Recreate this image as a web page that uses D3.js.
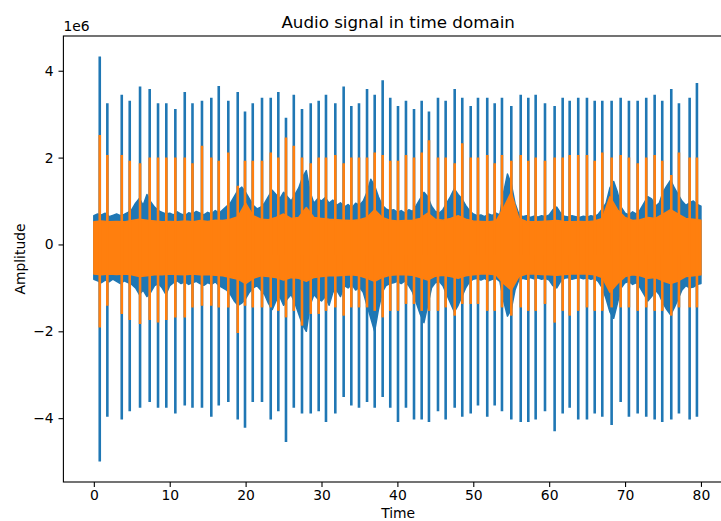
<!DOCTYPE html>
<html>
<head>
<meta charset="utf-8">
<script src="https://cdn.jsdelivr.net/npm/d3@7"></script>
<style>
  body { margin: 0; background: #fff; }
  svg text { font-family: "DejaVu Sans", sans-serif; fill: #000; }
</style>
</head>
<body>
<div id="chart"></div>
<script>
// values in units of 1e6

// click / beat positions (s)
const beatTimes = [
  0.78, 1.78, 3.68, 4.73, 6.09, 7.36, 8.46, 9.55, 10.74, 11.98,
  13.00, 14.25, 15.48, 16.46, 17.72, 18.96, 19.92, 20.94, 22.16, 23.31,
  24.31, 25.32, 26.35, 27.43, 28.58, 29.63, 30.59, 31.82, 32.92, 33.93,
  34.94, 36.00, 37.01, 38.06, 39.06, 40.08, 41.13, 42.19, 43.20, 44.16,
  45.35, 46.36, 47.55, 48.55, 49.66, 50.62, 51.84, 52.82, 53.78, 55.01,
  56.25, 57.25, 58.22, 59.45, 60.72, 61.78, 62.70, 63.83, 64.98, 66.00,
  67.00, 68.23, 69.42, 70.51, 71.66, 72.79, 73.90, 74.90, 76.09, 77.10,
  78.51, 79.47
]

// channel 0 (blue) peak at each beat
const leftBeatHi = [
  4.33, 3.25, 3.45, 3.31, 3.64, 3.58, 3.25, 3.25, 3.12, 3.51,
  3.25, 3.31, 3.38, 3.65, 3.31, 3.51, 3.06, 3.25, 3.38, 3.38,
  3.51, 2.92, 3.45, 3.12, 3.25, 3.31, 3.45, 3.25, 3.64, 3.19,
  3.25, 3.58, 3.45, 3.78, 3.38, 3.19, 3.31, 3.12, 3.31, 3.06,
  3.38, 3.31, 3.58, 3.38, 3.19, 3.38, 3.38, 3.25, 3.38, 3.19,
  3.45, 3.38, 3.45, 3.25, 3.19, 3.38, 3.31, 3.38, 3.38, 3.31,
  3.31, 3.31, 3.38, 3.31, 3.31, 3.38, 3.45, 3.31, 3.58, 3.25,
  3.38, 3.72
]
const leftBeatLo = [
  -5.00, -3.97, -4.03, -3.84, -3.76, -3.63, -3.76, -3.76, -3.89, -3.71,
  -3.76, -3.76, -3.97, -3.71, -3.63, -4.03, -4.22, -3.63, -3.63, -4.03,
  -3.84, -4.55, -3.76, -3.89, -3.89, -3.84, -4.09, -3.89, -3.51, -3.71,
  -3.76, -3.63, -3.76, -3.51, -3.76, -4.09, -3.76, -4.03, -4.03, -4.09,
  -3.84, -4.03, -3.76, -3.97, -3.89, -3.71, -3.97, -3.71, -3.84, -4.03,
  -4.09, -4.09, -4.03, -3.84, -4.30, -3.89, -3.76, -4.03, -4.03, -3.89,
  -3.97, -4.16, -3.63, -3.97, -3.89, -3.97, -4.03, -4.09, -4.03, -3.89,
  -4.03, -3.97
]

// channel 1 (orange) peak at each beat
const rightBeatHi = [
  2.52, 2.06, 2.06, 1.93, 1.87, 2.00, 2.00, 2.00, 2.00, 2.00,
  1.87, 2.27, 2.00, 1.93, 2.12, 1.35, 1.93, 1.93, 1.93, 2.12,
  2.00, 2.46, 2.27, 2.00, 1.87, 2.00, 2.00, 2.06, 1.87, 2.00,
  2.00, 2.00, 2.12, 2.06, 1.93, 1.93, 2.06, 2.00, 2.12, 2.40,
  2.00, 2.00, 1.87, 2.33, 2.00, 2.00, 2.06, 1.87, 2.06, 1.93,
  2.06, 1.93, 2.00, 1.93, 2.00, 2.00, 2.06, 2.06, 2.06, 1.93,
  2.12, 2.00, 2.06, 2.00, 1.87, 2.00, 2.06, 1.93, 1.60, 2.12,
  2.00, 2.00
]
const rightBeatLo = [
  -1.91, -1.41, -1.60, -1.74, -1.83, -1.74, -1.80, -1.74, -1.68, -1.68,
  -1.45, -1.41, -1.41, -1.45, -1.45, -2.04, -1.41, -1.45, -1.45, -1.45,
  -1.53, -1.68, -1.53, -1.87, -1.60, -1.60, -1.53, -1.45, -1.64, -1.45,
  -1.45, -1.45, -1.53, -1.68, -1.53, -1.53, -1.37, -1.37, -1.53, -1.53,
  -1.53, -1.45, -1.64, -1.37, -1.37, -1.37, -1.53, -1.53, -1.45, -1.64,
  -1.45, -1.53, -1.53, -1.37, -1.80, -1.53, -1.64, -1.53, -1.45, -1.53,
  -1.53, -1.45, -1.45, -1.45, -1.53, -1.45, -1.53, -1.53, -1.64, -1.45,
  -1.45, -1.45
]

// envelope of the background signal between beats
const leftEnvStep = 0.5   // s between samples
const leftEnvHi = [
  0.66, 0.70, 0.68, 0.72, 0.64, 0.67, 0.70, 0.66, 0.69, 0.74,
  0.80, 0.95, 1.06, 0.90, 1.15, 0.98, 0.86, 0.78, 0.74, 0.70,
  0.72, 0.68, 0.75, 0.70, 0.66, 0.73, 0.70, 0.76, 0.72, 0.68,
  0.74, 0.70, 0.78, 0.72, 0.80, 0.88, 0.95, 1.10, 1.25, 1.32,
  1.20, 1.05, 0.90, 0.82, 0.86, 0.95, 1.10, 1.25, 1.15, 1.05,
  1.20, 1.10, 1.00, 1.15, 1.30, 1.55, 1.70, 1.20, 0.95, 1.05,
  1.00, 1.08, 0.95, 1.02, 0.90, 0.96, 0.86, 0.92, 0.84, 0.95,
  0.90, 1.00, 1.20, 1.50, 1.35, 1.10, 0.90, 0.82, 0.78, 0.80,
  0.74, 0.78, 0.72, 0.80, 0.76, 0.90, 1.05, 1.20, 1.10, 0.88,
  0.76, 0.72, 0.80, 0.95, 1.10, 1.28, 1.15, 1.05, 0.90, 0.78,
  0.70, 0.66, 0.68, 0.64, 0.70, 0.67, 0.72, 0.68, 1.20, 1.62,
  1.40, 0.95, 0.70, 0.64, 0.66, 0.62, 0.65, 0.63, 0.66, 0.64,
  0.68, 0.80, 0.86, 0.72, 0.65, 0.63, 0.66, 0.64, 0.62, 0.65,
  0.63, 0.66, 0.64, 0.70, 0.82, 0.95, 1.30, 1.45, 1.20, 0.85,
  0.72, 0.68, 0.75, 0.70, 0.80, 0.95, 1.10, 1.05, 0.88, 0.95,
  1.20, 1.35, 1.48, 1.30, 1.15, 1.00, 0.90, 0.96, 1.00, 0.92,
  0.88
]
const leftEnvLo = [
  -0.80, -0.84, -0.88, -0.82, -0.86, -0.80, -0.85, -0.90, -0.84, -0.88,
  -0.92, -1.00, -1.15, -1.05, -1.20, -1.10, -0.95, -0.90, -1.00, -1.15,
  -0.95, -0.88, -0.84, -0.90, -0.86, -0.92, -0.88, -0.85, -0.90, -0.94,
  -0.88, -0.92, -0.86, -0.95, -1.00, -1.05, -1.15, -1.30, -1.40, -1.35,
  -1.25, -1.10, -1.00, -0.95, -1.05, -1.15, -1.35, -1.50, -1.30, -1.20,
  -1.40, -1.25, -1.15, -1.35, -1.60, -1.85, -2.00, -1.40, -1.15, -1.25,
  -1.30, -1.20, -1.40, -1.10, -1.05, -1.20, -0.95, -1.00, -0.92, -1.05,
  -0.98, -1.10, -1.40, -1.70, -2.00, -1.50, -1.10, -0.95, -0.90, -0.88,
  -0.85, -0.90, -0.84, -0.95, -1.10, -1.35, -1.60, -1.80, -1.40, -1.00,
  -0.88, -0.85, -0.95, -1.15, -1.35, -1.55, -1.40, -1.20, -1.00, -0.86,
  -0.80, -0.78, -0.82, -0.78, -0.84, -0.80, -0.78, -0.85, -1.30, -1.65,
  -1.50, -1.05, -0.82, -0.78, -0.80, -0.76, -0.79, -0.77, -0.80, -0.78,
  -0.82, -0.95, -1.00, -0.85, -0.78, -0.76, -0.80, -0.78, -0.76, -0.79,
  -0.77, -0.80, -0.78, -0.86, -1.00, -1.25, -1.55, -1.70, -1.35, -1.00,
  -0.88, -0.85, -0.92, -0.88, -1.00, -1.15, -1.30, -1.20, -1.05, -1.15,
  -1.35, -1.50, -1.62, -1.45, -1.25, -1.05, -0.95, -1.00, -0.98, -0.92,
  -0.90
]

const rightEnvStep = 1.0
const rightEnvHi = [
  0.52, 0.54, 0.52, 0.53, 0.52, 0.55, 0.58, 0.56, 0.54, 0.52,
  0.53, 0.52, 0.54, 0.52, 0.55, 0.53, 0.56, 0.55, 0.58, 0.64,
  0.95, 0.66, 0.58, 0.57, 0.62, 0.70, 0.60, 0.62, 0.85, 0.62,
  0.60, 0.58, 0.57, 0.56, 0.55, 0.57, 0.62, 0.80, 0.62, 0.56,
  0.54, 0.55, 0.56, 0.60, 0.72, 0.58, 0.56, 0.60, 0.66, 0.58,
  0.54, 0.53, 0.52, 0.54, 0.85, 1.20, 0.60, 0.53, 0.52, 0.53,
  0.54, 0.55, 0.53, 0.52, 0.53, 0.52, 0.54, 0.60, 1.10, 0.80,
  0.62, 0.55, 0.57, 0.62, 0.60, 0.70, 0.80, 0.70, 0.60, 0.58,
  0.56
]
const rightEnvLo = [
  -0.68, -0.70, -0.68, -0.69, -0.68, -0.70, -0.74, -0.72, -0.70, -0.70,
  -0.68, -0.69, -0.70, -0.68, -0.70, -0.69, -0.71, -0.72, -0.76, -0.80,
  -0.90, -0.78, -0.72, -0.74, -0.76, -0.82, -0.76, -0.78, -0.85, -0.76,
  -0.74, -0.72, -0.72, -0.71, -0.70, -0.72, -0.78, -0.85, -0.76, -0.71,
  -0.70, -0.70, -0.71, -0.76, -0.82, -0.73, -0.71, -0.74, -0.78, -0.72,
  -0.70, -0.68, -0.68, -0.70, -0.90, -1.05, -0.74, -0.68, -0.68, -0.69,
  -0.70, -0.71, -0.69, -0.68, -0.68, -0.68, -0.70, -0.76, -1.10, -0.90,
  -0.74, -0.70, -0.72, -0.78, -0.76, -0.84, -0.90, -0.84, -0.74, -0.72,
  -0.70
]

const xTicks = [0, 10, 20, 30, 40, 50, 60, 70, 80]
const yTicks = [-4, -2, 0, 2, 4]

const width = 721
const height = 521
const plotLeft = 63.4       // left spine
const plotTop = 36
const plotBottom = 482
const plotRight = 732.9     // right spine falls just outside the window
const blue = "#1f77b4"
const orange = "#ff7f0e"

const svg = d3.select("#chart")
    .append("svg")
    .attr("width", width)
    .attr("height", height)
    .attr("viewBox", [0, 0, width, height])

const x = d3.scaleLinear([-4.01, 84.21], [plotLeft, plotRight])
const y = d3.scaleLinear([-5.47, 4.80], [plotBottom, plotTop])

svg.append("clipPath").attr("id", "plot-clip")
    .append("rect")
    .attr("x", plotLeft).attr("y", plotTop)
    .attr("width", plotRight - plotLeft).attr("height", plotBottom - plotTop)

const plot = svg.append("g").attr("clip-path", "url(#plot-clip)")

const drawChannel = (envHi, envLo, step, beatHi, beatLo, color) => {
    const env = envHi.map((hi, i) => ({t: i * step, hi: hi, lo: envLo[i]}))
    const area = d3.area()
        .x(d => x(d.t))
        .y0(d => y(d.lo))
        .y1(d => y(d.hi))
    plot.append("path")
        .datum(env)
        .attr("d", area)
        .attr("fill", color)
        .attr("stroke", color)
        .attr("stroke-width", 1.5)
        .attr("stroke-linejoin", "round")

    plot.append("g")
        .attr("stroke", color)
        .attr("stroke-width", 2.6)
        .selectAll("line")
        .data(beatTimes)
        .join("line")
        .attr("x1", d => x(d))
        .attr("x2", d => x(d))
        .attr("y1", (d, i) => y(beatHi[i]))
        .attr("y2", (d, i) => y(beatLo[i]))
}

drawChannel(leftEnvHi, leftEnvLo, leftEnvStep, leftBeatHi, leftBeatLo, blue)
drawChannel(rightEnvHi, rightEnvLo, rightEnvStep, rightBeatHi, rightBeatLo, orange)

const fmt = d => d < 0 ? "\u2212" + Math.abs(d) : String(d)

//x axis
svg.append("g")
    .attr("transform", `translate(0,${plotBottom})`)
    .call(d3.axisBottom(x).tickValues(xTicks).tickFormat(fmt).tickSizeOuter(0).tickSize(4.9).tickPadding(3.6))
    .call(g => g.select(".domain").remove())
    .call(g => g.selectAll(".tick line").attr("stroke", "#000").attr("stroke-width", 1.1))
    .call(g => g.selectAll("text").attr("font-size", 13.9).attr("font-family", "DejaVu Sans"))

//y axis
svg.append("g")
    .attr("transform", `translate(${plotLeft},0)`)
    .call(d3.axisLeft(y).tickValues(yTicks).tickFormat(fmt).tickSizeOuter(0).tickSize(4.9).tickPadding(4.8))
    .call(g => g.select(".domain").remove())
    .call(g => g.selectAll(".tick line").attr("stroke", "#000").attr("stroke-width", 1.1))
    .call(g => g.selectAll("text").attr("font-size", 13.9).attr("font-family", "DejaVu Sans"))

// spines
svg.append("rect")
    .attr("x", plotLeft).attr("y", plotTop)
    .attr("width", plotRight - plotLeft).attr("height", plotBottom - plotTop)
    .attr("fill", "none")
    .attr("stroke", "#000")
    .attr("stroke-width", 1.1)

svg.append("text")
    .attr("x", (plotLeft + plotRight) / 2)
    .attr("y", 27.5)
    .attr("text-anchor", "middle")
    .attr("font-size", 16.7)
    .text("Audio signal in time domain")

svg.append("text")
    .attr("x", plotLeft)
    .attr("y", 31)
    .attr("font-size", 13.9)
    .text("1e6")

svg.append("text")
    .attr("x", (plotLeft + plotRight) / 2)
    .attr("y", 518)
    .attr("text-anchor", "middle")
    .attr("font-size", 13.9)
    .text("Time")

svg.append("text")
    .attr("transform", `translate(25,${(plotTop + plotBottom) / 2}) rotate(-90)`)
    .attr("text-anchor", "middle")
    .attr("font-size", 13.9)
    .text("Amplitude")
</script>
</body>
</html>
